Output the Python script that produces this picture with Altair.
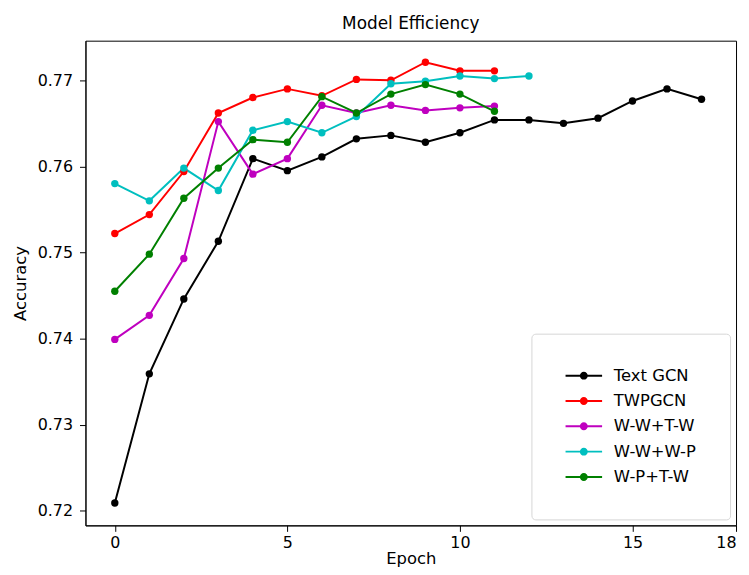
import altair as alt
import pandas as pd

series_names = ["Text GCN", "TWPGCN", "W-W+T-W", "W-W+W-P", "W-P+T-W"]
series_colors = ["#000000", "#ff0000", "#bf00bf", "#00bfbf", "#008000"]

text_gcn = [0.7209, 0.7359, 0.7446, 0.7513, 0.7609, 0.7595, 0.7611, 0.7632, 0.7636,
            0.7628, 0.7639, 0.7654, 0.7654, 0.7650, 0.7656, 0.7676, 0.7690, 0.7678]
twpgcn = [0.7522, 0.7544, 0.7594, 0.7662, 0.7680, 0.7690, 0.7682, 0.7701, 0.7700,
          0.7721, 0.7711, 0.7711]
ww_tw = [0.7399, 0.7427, 0.7493, 0.7652, 0.7591, 0.7609, 0.7671, 0.7662, 0.7671,
         0.7665, 0.7668, 0.7670]
ww_wp = [0.7580, 0.7560, 0.7598, 0.7572, 0.7642, 0.7652, 0.7639, 0.7658, 0.7696,
         0.7699, 0.7705, 0.7702, 0.7705]
wp_tw = [0.7455, 0.7498, 0.7563, 0.7598, 0.7631, 0.7628, 0.7681, 0.7662, 0.7684,
         0.7695, 0.7684, 0.7664]

x_ticks = [0, 5, 10, 15, 18]
y_ticks = [0.72, 0.73, 0.74, 0.75, 0.76, 0.77]

rows = []
for k, (name, vals) in enumerate(zip(series_names, [text_gcn, twpgcn, ww_tw, ww_wp, wp_tw])):
    for i, v in enumerate(vals):
        rows.append({"series": name, "epoch": i, "acc": v, "k": k})
df = pd.DataFrame(rows)

FONT = "DejaVu Sans"
sc = alt.Scale(domain=series_names, range=series_colors)

x_enc = alt.X("epoch:Q", scale=alt.Scale(domain=[-0.85, 18], nice=False, zero=False),
              axis=alt.Axis(values=x_ticks, title="Epoch", format="d", titlePadding=0))
y_enc = alt.Y("acc:Q", scale=alt.Scale(domain=[0.7183, 0.7746], nice=False, zero=False),
              axis=alt.Axis(values=y_ticks, title="Accuracy", format=".2f",
                            labelPadding=7, titlePadding=9))

# filled legend glyph: a thin bar (the line) plus a dot (the marker)
sym_path = ("M-2.3,-0.125H2.3V0.125H-2.3Z"
            "M0.5,0A0.5,0.5,0,1,1,-0.5,0A0.5,0.5,0,1,1,0.5,0Z")
leg = alt.Legend(title="", orient="bottom-right", offset=6,
                 symbolType=sym_path, symbolSize=256, symbolStrokeWidth=0,
                 symbolOffset=10.5,
                 labelFont=FONT, labelFontSize=16.5, labelColor="#000000",
                 labelOffset=22, rowPadding=8.5, padding=34,
                 strokeColor="#d6d6d6", fillColor="#ffffff", cornerRadius=4)

lines = alt.Chart(df).mark_line(strokeWidth=2).encode(
    x=x_enc, y=y_enc,
    color=alt.Color("series:N", scale=sc, legend=leg),
    order=alt.Order("epoch:Q"),
)
points = alt.Chart(df).mark_point(filled=True, size=55, opacity=1).encode(
    x=x_enc, y=y_enc,
    color=alt.Color("series:N", scale=sc, legend=leg),
    order=alt.Order("k:Q"),
)

chart = alt.layer(lines, points).properties(
    width=655, height=488,
    autosize=alt.AutoSizeParams(type="none"),
    padding={"left": 78, "top": 31, "right": 5, "bottom": 40},
    title=alt.TitleParams("Model Efficiency", font=FONT, fontSize=17, fontWeight="normal",
                          color="#000000", offset=8, anchor="middle"),
).configure_view(stroke="#000000", strokeWidth=1).configure_axis(
    grid=False, domainColor="#000000", tickColor="#000000", tickSize=6,
    labelFont=FONT, labelFontSize=16, labelColor="#000000", labelPadding=3,
    titleFont=FONT, titleFontSize=16.5, titleColor="#000000", titleFontWeight="normal",
)

chart.save("out.html", embed_options={"renderer": "svg", "actions": False})
